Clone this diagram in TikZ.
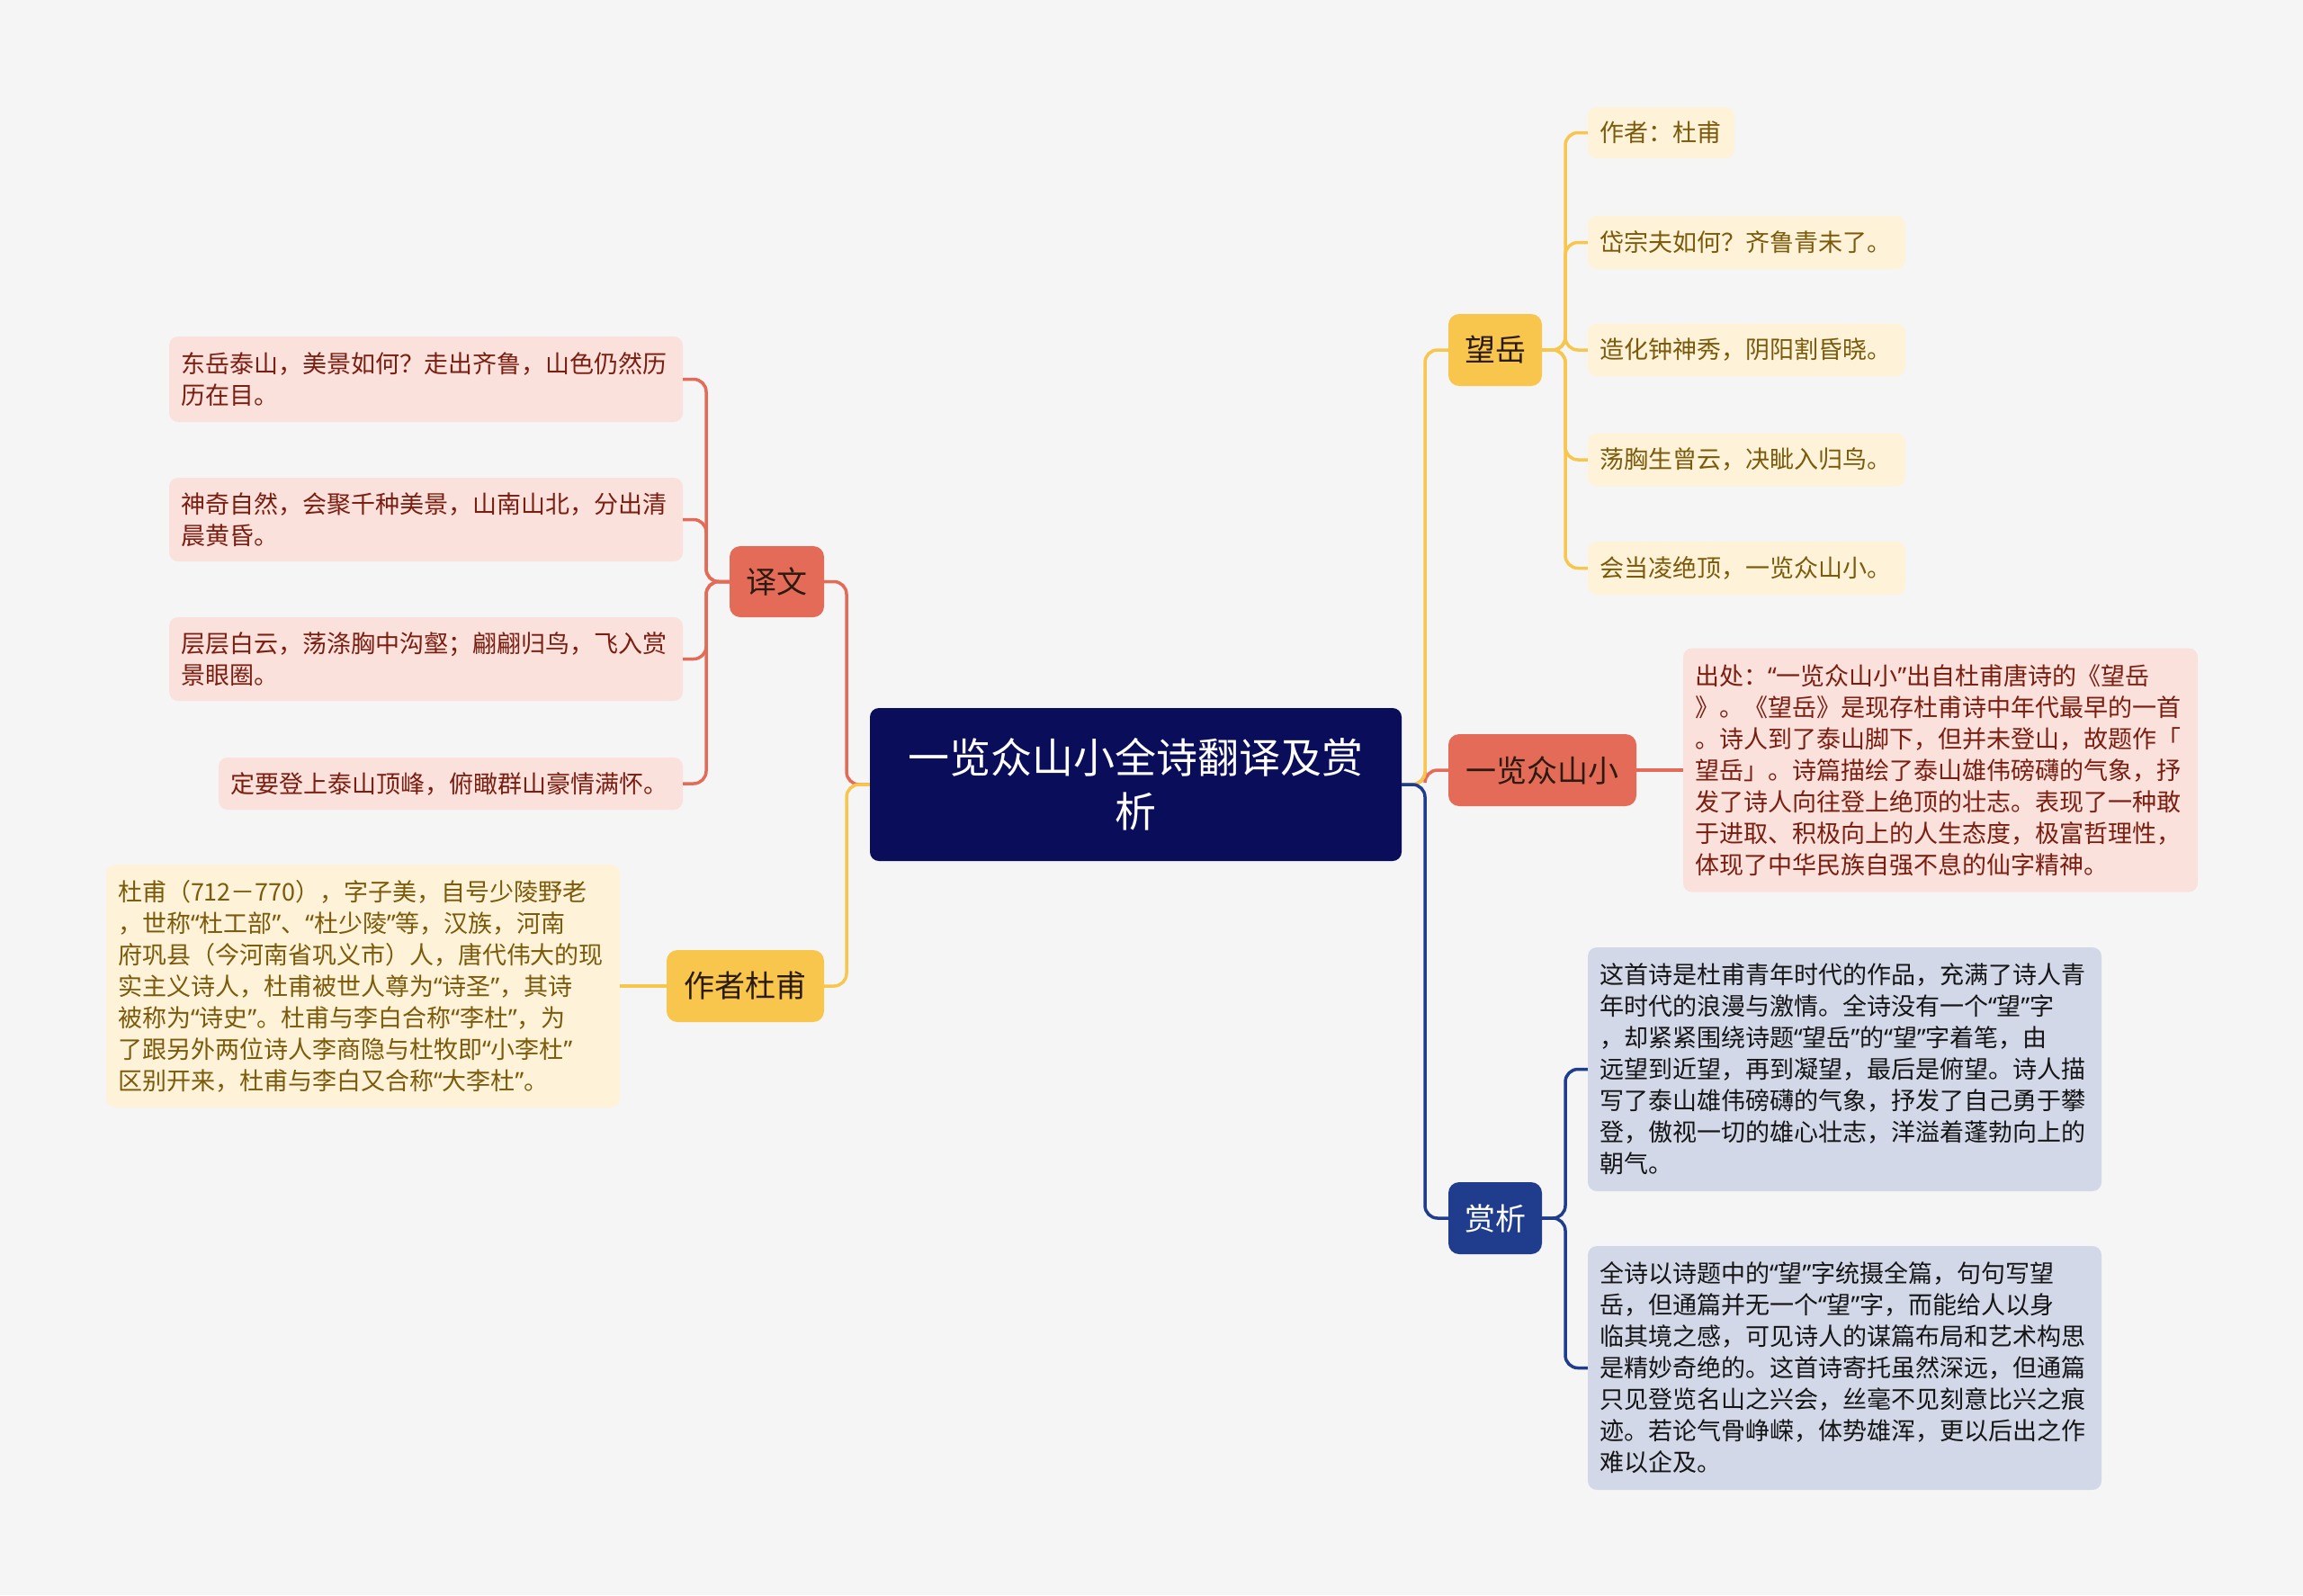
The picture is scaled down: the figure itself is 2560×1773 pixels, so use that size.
\documentclass[tikz,border=0pt]{standalone}
\usepackage{fontspec}
\newfontfamily\cjk{Noto Sans CJK SC}
\newfontfamily\quotefont{Noto Sans}
\newcommand\myoq{{\quotefont “}}
\newcommand\mycq{{\quotefont ”}}
\definecolor{bgc}{HTML}{F5F5F5}
\definecolor{rootc}{HTML}{0A0D5A}
\definecolor{coralc}{HTML}{E36B57}
\definecolor{yellowc}{HTML}{F8C64D}
\definecolor{navyc}{HTML}{1F3D8C}
\definecolor{lfred}{HTML}{FAE1DB}
\definecolor{txred}{HTML}{7A1E12}
\definecolor{lfyel}{HTML}{FEF3D9}
\definecolor{txyel}{HTML}{7B5A0B}
\definecolor{lfblu}{HTML}{D2D8E8}
\definecolor{txblu}{HTML}{151515}
\definecolor{txdark}{HTML}{2A1A10}
\begin{document}
\begin{tikzpicture}[x=1pt,y=-1pt,
  leaf/.style={rounded corners=10pt, inner xsep=13pt, inner ysep=0pt, align=left,
    font=\cjk\fontsize{27}{35}\selectfont},
  leafR/.style={leaf, fill=lfred, text=txred},
  leafY/.style={leaf, fill=lfyel, text=txyel},
  leafB/.style={leaf, fill=lfblu, text=txblu},
  branch/.style={rounded corners=12pt, inner sep=0pt, align=center,
    font=\cjk\fontsize{34}{40}\selectfont},
  brR/.style={branch, fill=coralc, text=txdark},
  brY/.style={branch, fill=yellowc, text=txdark},
  brB/.style={branch, fill=navyc, text=white},
  conn/.style={line width=3.5pt, rounded corners=14pt},
  cR/.style={conn, draw=coralc},
  cY/.style={conn, draw=yellowc},
  cB/.style={conn, draw=navyc}]
\fill[bgc] (0,0) rectangle (2560,1773);
\useasboundingbox (0,0) rectangle (2560,1773);

% root
\node[rounded corners=10pt, fill=rootc, text=white, inner sep=0pt, align=center,
  minimum width=591pt, minimum height=170pt, text width=560pt,
  font=\cjk\fontsize{46}{60}\selectfont] (root) at (1262.5,872)
  {一览众山小全诗翻译及赏\\析};

% branches
\node[brR, minimum width=105pt, minimum height=79pt] (yw) at (863.5,646.5) {译文};
\node[brY, minimum width=175pt, minimum height=80pt] (zz) at (828.5,1096) {作者杜甫};
\node[brY, minimum width=104pt, minimum height=80pt] (wy) at (1662,389) {望岳};
\node[brR, minimum width=209pt, minimum height=80pt] (ylz) at (1714.5,856) {一览众山小};
\node[brB, minimum width=104pt, minimum height=80pt] (sx) at (1662,1354) {赏析};

% 译文 leaves
\node[leafR, text width=545pt, minimum height=95pt] (L1) at (473.5,421.5)
  {东岳泰山，美景如何？走出齐鲁，山色仍然历\\历在目。};
\node[leafR, text width=545pt, minimum height=93pt] (L2) at (473.5,577.5)
  {神奇自然，会聚千种美景，山南山北，分出清\\晨黄昏。};
\node[leafR, text width=545pt, minimum height=93pt] (L3) at (473.5,732.5)
  {层层白云，荡涤胸中沟壑；翩翩归鸟，飞入赏\\景眼圈。};
\node[leafR, text width=490pt, minimum height=58pt] (L4) at (501,871)
  {定要登上泰山顶峰，俯瞰群山豪情满怀。};

% 作者杜甫 leaf
\node[leafY, text width=545pt, minimum height=270pt] (A1) at (403.5,1096)
  {杜甫（712－770），字子美，自号少陵野老\\
   ，世称\myoq 杜工部\mycq 、\myoq 杜少陵\mycq 等，汉族，河南\\
   府巩县（今河南省巩义市）人，唐代伟大的现\\
   实主义诗人，杜甫被世人尊为\myoq 诗圣\mycq ，其诗\\
   被称为\myoq 诗史\mycq 。杜甫与李白合称\myoq 李杜\mycq ，为\\
   了跟另外两位诗人李商隐与杜牧即\myoq 小李杜\mycq \\
   区别开来，杜甫与李白又合称\myoq 大李杜\mycq 。};

% 望岳 leaves
\node[leafY, text width=137pt, minimum height=57pt] (W1) at (1846.5,147.5) {作者：杜甫};
\node[leafY, text width=327pt, minimum height=59pt] (W2) at (1941.5,269.5) {岱宗夫如何？齐鲁青未了。};
\node[leafY, text width=327pt, minimum height=59pt] (W3) at (1941.5,389) {造化钟神秀，阴阳割昏晓。};
\node[leafY, text width=327pt, minimum height=59pt] (W4) at (1941.5,511) {荡胸生曾云，决眦入归鸟。};
\node[leafY, text width=327pt, minimum height=59pt] (W5) at (1941.5,631.5) {会当凌绝顶，一览众山小。};

% 一览众山小 leaf
\node[leafR, text width=546pt, minimum height=271pt] (Y1) at (2157,856)
  {出处：\myoq 一览众山小\mycq 出自杜甫唐诗的《望岳\\
   》。《望岳》是现存杜甫诗中年代最早的一首\\
   。诗人到了泰山脚下，但并未登山，故题作「\\
   望岳」。诗篇描绘了泰山雄伟磅礴的气象，抒\\
   发了诗人向往登上绝顶的壮志。表现了一种敢\\
   于进取、积极向上的人生态度，极富哲理性，\\
   体现了中华民族自强不息的仙字精神。};

% 赏析 leaves
\node[leafB, text width=545pt, minimum height=271pt] (S1) at (2050.5,1188.5)
  {这首诗是杜甫青年时代的作品，充满了诗人青\\
   年时代的浪漫与激情。全诗没有一个\myoq 望\mycq 字\\
   ，却紧紧围绕诗题\myoq 望岳\mycq 的\myoq 望\mycq 字着笔，由\\
   远望到近望，再到凝望，最后是俯望。诗人描\\
   写了泰山雄伟磅礴的气象，抒发了自己勇于攀\\
   登，傲视一切的雄心壮志，洋溢着蓬勃向上的\\
   朝气。};
\node[leafB, text width=545pt, minimum height=271pt] (S2) at (2050.5,1520.5)
  {全诗以诗题中的\myoq 望\mycq 字统摄全篇，句句写望\\
   岳，但通篇并无一个\myoq 望\mycq 字，而能给人以身\\
   临其境之感，可见诗人的谋篇布局和艺术构思\\
   是精妙奇绝的。这首诗寄托虽然深远，但通篇\\
   只见登览名山之兴会，丝毫不见刻意比兴之痕\\
   迹。若论气骨峥嵘，体势雄浑，更以后出之作\\
   难以企及。};

% connectors: root to branches (left)
\draw[cR] (root.west) -- (941,872) -- (941,646.5) -- (yw.east);
\draw[cY] (root.west) -- (941,872) -- (941,1096) -- (zz.east);
% root to branches (right)
\draw[cR] (root.east) -- (1584,872) -- (1584,856) -- (ylz.west);
\draw[cY] (root.east) -- (1584,872) -- (1584,389) -- (wy.west);
\draw[cB] (root.east) -- (1584,872) -- (1584,1354) -- (sx.west);

% 译文 to leaves
\foreach \n in {L1,L2,L3,L4}
  \draw[cR] (yw.west) -- (785,646.5) -- (785,0 |- \n.east) -- (\n.east);
% 作者杜甫 to leaf
\draw[cY] (zz.west) -- (A1.east);
% 望岳 to leaves
\foreach \n in {W1,W2,W3,W4,W5}
  \draw[cY] (wy.east) -- (1740,389) -- (1740,0 |- \n.west) -- (\n.west);
% 一览众山小 to leaf
\draw[cR] (ylz.east) -- (Y1.west);
% 赏析 to leaves
\foreach \n in {S1,S2}
  \draw[cB] (sx.east) -- (1740,1354) -- (1740,0 |- \n.west) -- (\n.west);
\end{tikzpicture}
\end{document}
